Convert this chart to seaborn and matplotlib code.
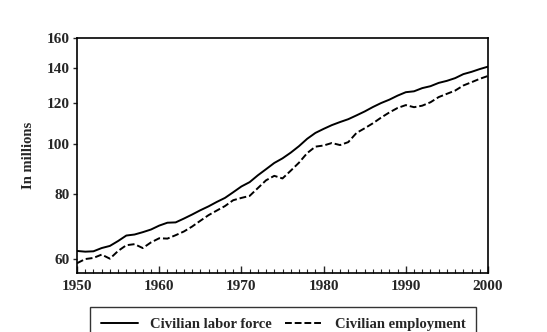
import matplotlib
matplotlib.use("Agg")
import matplotlib.pyplot as plt
import matplotlib.ticker as mticker
from matplotlib.lines import Line2D
import seaborn as sns
import pandas as pd

years = list(range(1950, 2001))
labor_force = [62.2, 62.0, 62.1, 63.0, 63.6, 65.0, 66.6, 66.9, 67.6, 68.4,
               69.6, 70.5, 70.6, 71.8, 73.1, 74.5, 75.8, 77.3, 78.7, 80.7,
               82.8, 84.4, 87.0, 89.4, 91.9, 93.8, 96.2, 99.0, 102.3, 105.0,
               106.9, 108.7, 110.2, 111.6, 113.5, 115.5, 117.8, 119.9, 121.7, 123.9,
               125.8, 126.3, 128.1, 129.2, 131.1, 132.3, 133.9, 136.3, 137.7, 139.4,
               140.9]
employment = [58.9, 60.0, 60.3, 61.2, 60.1, 62.2, 63.8, 64.1, 63.0, 64.6,
              65.8, 65.7, 66.7, 67.8, 69.3, 71.1, 72.9, 74.4, 75.9, 77.9,
              78.7, 79.4, 82.2, 85.1, 86.8, 85.8, 88.8, 92.0, 96.0, 98.8,
              99.3, 100.4, 99.5, 100.8, 105.0, 107.2, 109.6, 112.4, 115.0, 117.3,
              118.8, 117.7, 118.5, 120.3, 123.1, 124.9, 126.7, 129.6, 131.5, 133.5,
              135.2]
series_names = ["Civilian labor force", "Civilian employment"]
y_ticks = [60, 80, 100, 120, 140, 160]
x_ticks = [1950, 1960, 1970, 1980, 1990, 2000]

sns.set_style("ticks")
plt.rcParams["font.family"] = ["Liberation Serif", "DejaVu Serif"]
plt.rcParams["font.weight"] = "bold"

df = pd.DataFrame({
    "year": years * 2,
    "value": labor_force + employment,
    "series": [series_names[0]] * len(years) + [series_names[1]] * len(years),
})

fig = plt.figure(figsize=(5.47, 3.32), dpi=100)
ax = fig.add_axes([77/547, 1-273/332, (488-77)/547, (273-38)/332])

sns.lineplot(data=df, x="year", y="value", style="series",
             dashes={series_names[0]: "", series_names[1]: (3.5, 1.5)},
             color="black", linewidth=1.4, ax=ax, legend=False)

ax.set_yscale("log")
ax.set_ylim(56.4, 160)
ax.set_xlim(1950, 2000)
ax.yaxis.set_major_locator(mticker.FixedLocator(y_ticks))
ax.yaxis.set_major_formatter(mticker.FixedFormatter([str(v) for v in y_ticks]))
ax.yaxis.set_minor_locator(mticker.NullLocator())
ax.set_xticks(x_ticks)
ax.set_xticklabels([str(v) for v in x_ticks])
ax.xaxis.set_minor_locator(mticker.MultipleLocator(1))

ax.tick_params(axis="x", which="major", direction="in", length=5, width=1, labelsize=11, pad=5)
ax.tick_params(axis="x", which="minor", direction="in", length=3, width=0.8)
ax.tick_params(axis="y", which="major", direction="out", length=3, width=1, labelsize=11, pad=2)
for lbl in ax.get_xticklabels() + ax.get_yticklabels():
    lbl.set_fontweight("bold")

for s in ax.spines.values():
    s.set_visible(True)
    s.set_linewidth(1.2)
    s.set_color("black")

ax.set_xlabel("")
ax.set_ylabel("In millions", fontsize=10.5, fontweight="bold", labelpad=9)

handles = [Line2D([0], [0], color="black", lw=1.4),
           Line2D([0], [0], color="black", lw=1.4, dashes=(3.5, 1.5))]
leg = ax.legend(handles, series_names, loc="upper left", ncol=2, mode="expand",
                bbox_to_anchor=(83/547, -0.3, 400/547, 0.3 + 1 - 300/332),
                bbox_transform=fig.transFigure, frameon=True, fancybox=False,
                edgecolor="black", handlelength=2.6, borderpad=0.7,
                prop={"size": 10.5, "weight": "bold"})
leg.get_frame().set_linewidth(1.0)

fig.savefig("out.png", dpi=100)
